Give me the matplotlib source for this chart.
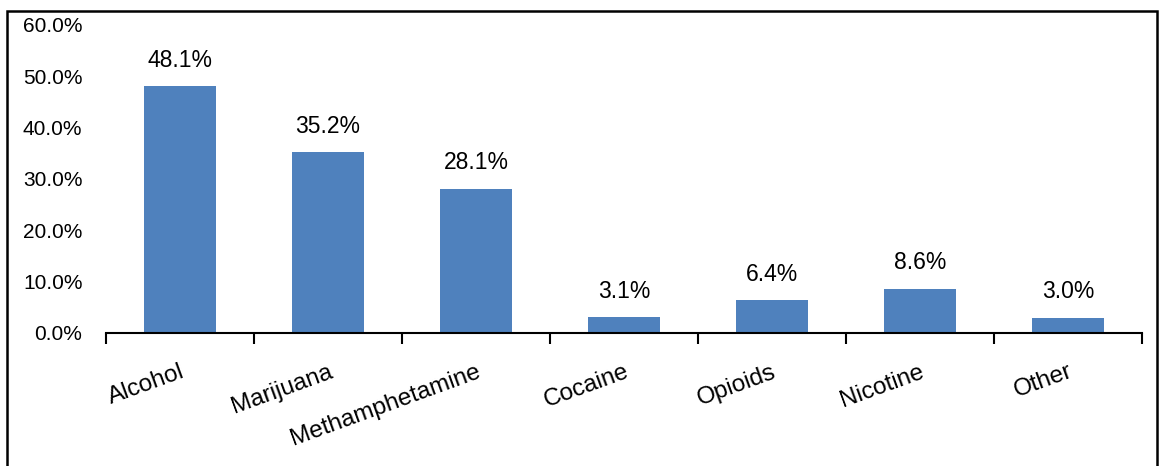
import matplotlib.pyplot as plt
from matplotlib.patches import Rectangle
from matplotlib.ticker import FuncFormatter
import numpy as np

plt.rcParams['font.family'] = ['Liberation Sans', 'DejaVu Sans']

# substances and share of respondents (%)
categories = ["Alcohol", "Marijuana", "Methamphetamine", "Cocaine",
              "Opioids", "Nicotine", "Other"]
values = [48.1, 35.2, 28.1, 3.1, 6.4, 8.6, 3.0]

bar_color = "#4F81BD"

fig = plt.figure(figsize=(11.59, 4.66), dpi=100)
ax = fig.add_axes([106 / 1159, 1 - 333 / 466, (1142 - 106) / 1159, (333 - 25) / 466])

x = np.arange(len(categories))
bars = ax.bar(x, values, width=0.49, color=bar_color, zorder=2)

for b, v in zip(bars, values):
    ax.annotate(f"{v:.1f}%", (b.get_x() + b.get_width() / 2, v),
                xytext=(0, 10.5), textcoords="offset points",
                ha="center", va="bottom", fontsize=16.5)

ax.set_xlim(-0.5, len(categories) - 0.5)
ax.set_ylim(0, 60)
ax.set_yticks(np.arange(0, 61, 10))
ax.yaxis.set_major_formatter(FuncFormatter(lambda v, p: f"{v:.1f}%"))
ax.tick_params(axis="y", length=0, labelsize=15, pad=17)

# category labels between boundary ticks
ax.set_xticks(x)
ax.set_xticklabels(categories, rotation=20, ha="right", rotation_mode="anchor",
                   fontsize=17.5)
ax.tick_params(axis="x", which="major", length=0, pad=20)
ax.set_xticks(np.arange(-0.5, len(categories), 1), minor=True)
ax.tick_params(axis="x", which="minor", length=8, width=1.5, direction="out")

for s in ["left", "right", "top"]:
    ax.spines[s].set_visible(False)
ax.spines["bottom"].set_linewidth(1.5)

# outer chart border
fig.patches.append(Rectangle((7 / 1159, -0.05), (1157 - 7) / 1159, 1.05 - 11 / 466,
                             transform=fig.transFigure, fill=False,
                             edgecolor="black", linewidth=1.8, clip_on=False))

fig.savefig("out.png", dpi=100)
